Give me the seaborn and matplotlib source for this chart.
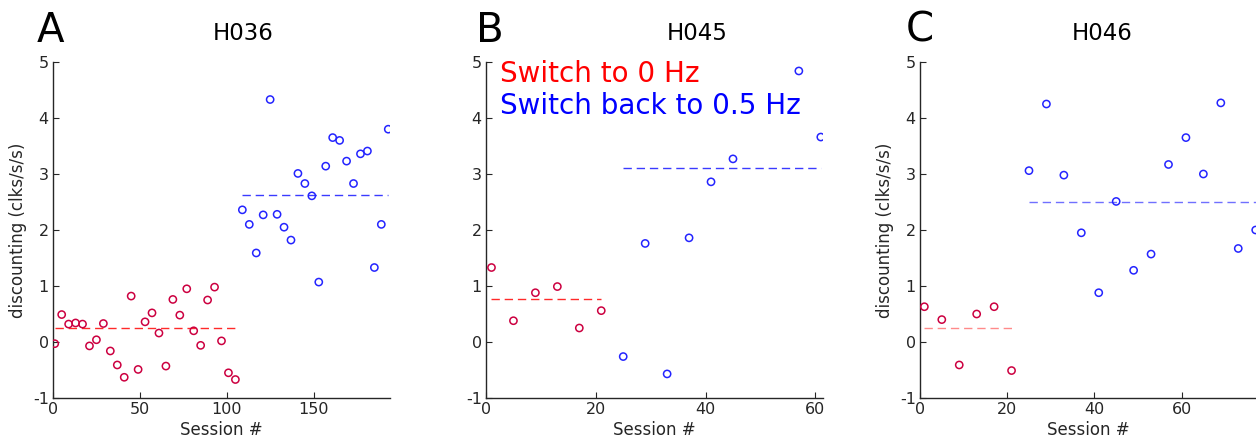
import numpy as np
import pandas as pd
import matplotlib
matplotlib.use("Agg")
import matplotlib.pyplot as plt
import seaborn as sns

# ---------------- data ----------------
titles = ["H036", "H045", "H046"]
letters = ["A", "B", "C"]

# H036
a_red_sess = [1, 5, 9, 13, 17, 21, 25, 29, 33, 37, 41, 45, 49, 53, 57, 61, 65, 69,
              73, 77, 81, 85, 89, 93, 97, 101, 105]
a_red_val = [-0.03, 0.49, 0.32, 0.34, 0.32, -0.07, 0.04, 0.33, -0.16, -0.41, -0.63,
             0.82, -0.49, 0.36, 0.52, 0.16, -0.43, 0.76, 0.48, 0.95, 0.20, -0.06,
             0.75, 0.98, 0.02, -0.55, -0.67]
a_blue_sess = [109, 113, 117, 121, 125, 129, 133, 137, 141, 145, 149, 153, 157, 161,
               165, 169, 173, 177, 181, 185, 189, 193]
a_blue_val = [2.36, 2.10, 1.59, 2.27, 4.33, 2.28, 2.05, 1.82, 3.01, 2.83, 2.61, 1.07,
              3.14, 3.65, 3.60, 3.23, 2.83, 3.36, 3.41, 1.33, 2.10, 3.80]
a_red_level, a_blue_level = 0.25, 2.62

# H045
b_red_sess = [1, 5, 9, 13, 17, 21]
b_red_val = [1.33, 0.38, 0.88, 0.99, 0.25, 0.56]
b_blue_sess = [25, 29, 33, 37, 41, 45, 57, 61]
b_blue_val = [-0.26, 1.76, -0.57, 1.86, 2.86, 3.27, 4.84, 3.66]
b_red_level, b_blue_level = 0.76, 3.11

# H046
c_red_sess = [1, 5, 9, 13, 17, 21]
c_red_val = [0.63, 0.40, -0.41, 0.50, 0.63, -0.51]
c_blue_sess = [25, 29, 33, 37, 41, 45, 49, 53, 57, 61, 65, 69, 73, 77]
c_blue_val = [3.06, 4.25, 2.98, 1.95, 0.88, 2.51, 1.28, 1.57, 3.17, 3.65, 3.00, 4.27,
              1.67, 2.00]
c_red_level, c_blue_level = 0.245, 2.50

xlims = [194, 61.4, 77.3]
x_ticks = [[0, 50, 100, 150], [0, 20, 40, 60], [0, 20, 40, 60]]
y_ticks = [-1, 0, 1, 2, 3, 4, 5]

panels = [
    (a_red_sess, a_red_val, a_blue_sess, a_blue_val, a_red_level, a_blue_level),
    (b_red_sess, b_red_val, b_blue_sess, b_blue_val, b_red_level, b_blue_level),
    (c_red_sess, c_red_val, c_blue_sess, c_blue_val, c_red_level, c_blue_level),
]

# ---------------- style ----------------
sns.set_style("ticks")
plt.rcParams["font.family"] = ["DejaVu Sans"]
dark = "#262626"
plt.rcParams.update({
    "axes.edgecolor": dark, "xtick.color": dark, "ytick.color": dark,
    "axes.labelcolor": dark, "xtick.direction": "in", "ytick.direction": "in",
    "xtick.major.size": 4, "ytick.major.size": 4,
    "axes.linewidth": 1.0, "axes.unicode_minus": False,
})

W, H = 1256, 448
fig = plt.figure(figsize=(W / 100, H / 100), dpi=100)

lefts = [53, 486, 920]
axw, axb, axh = 337, 50, 336
marker_red = "#CC0040"
marker_blue = "#2424FF"
line_red = ["#FF2A2A", "#FF2A2A", "#FF8A8A"]
line_blue = ["#3A3AFF", "#3A3AFF", "#7070FF"]
title_x = [0.564, 0.626, 0.540]
letter_x = [37, 476, 906]

for i, (rs, rv, bs, bv, rl, bl) in enumerate(panels):
    ax = fig.add_axes([lefts[i] / W, axb / H, axw / W, axh / H])
    df = pd.DataFrame({
        "session": list(rs) + list(bs),
        "value": list(rv) + list(bv),
        "phase": ["red"] * len(rs) + ["blue"] * len(bs),
    })
    for ph, col in [("red", marker_red), ("blue", marker_blue)]:
        sub = df[df.phase == ph]
        sns.scatterplot(data=sub, x="session", y="value", ax=ax, marker="o",
                        s=27, facecolors="none", edgecolor=col, linewidth=1.1,
                        zorder=3, clip_on=False if i == 2 else True)
    ax.hlines(rl, min(rs), max(rs), colors=line_red[i], linestyles=(0, (6, 3.5)),
              linewidth=1.0, zorder=2)
    ax.hlines(bl, min(bs), xlims[i] if i == 2 else max(bs), colors=line_blue[i],
              linestyles=(0, (6, 3.5)), linewidth=1.0, zorder=2)
    ax.set_xlim(0, xlims[i])
    ax.set_ylim(-1, 5)
    ax.set_xticks(x_ticks[i])
    ax.set_yticks(y_ticks)
    ax.tick_params(labelsize=11.5, pad=3)
    ax.set_xlabel("Session #", fontsize=12, labelpad=3)
    if i != 1:
        ax.set_ylabel("discounting (clks/s/s)", fontsize=12, labelpad=4)
    else:
        ax.set_ylabel("")
    sns.despine(ax=ax)
    ax.text(title_x[i], 1.065, titles[i], transform=ax.transAxes, ha="center",
            va="baseline", fontsize=16.5, color="black")
    fig.text(letter_x[i] / W, (H - 42) / H, letters[i], fontsize=29,
             color="black", va="baseline", ha="left")
    if i == 1:
        ax.text(0.042, 0.941, "Switch to 0 Hz", transform=ax.transAxes,
                color="#FF0000", fontsize=20, va="baseline", ha="left")
        ax.text(0.042, 0.844, "Switch back to 0.5 Hz", transform=ax.transAxes,
                color="#0000FF", fontsize=20, va="baseline", ha="left")

fig.savefig("out.png", dpi=100)
